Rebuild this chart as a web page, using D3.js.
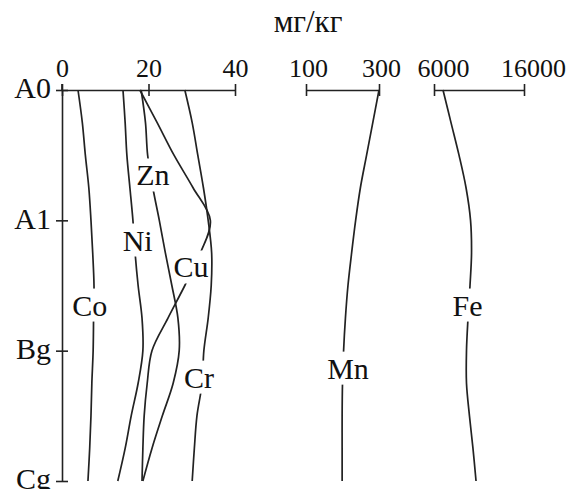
<!DOCTYPE html>
<html>
<head>
<meta charset="utf-8">
<script src="https://cdn.jsdelivr.net/npm/d3@7"></script>
<style>
  body { margin: 0; background: #fff; }
  svg { display: block; font-family: 'Liberation Serif', 'Times New Roman', serif; }
  .axis path, .axis line { stroke: #222; stroke-width: 1.6; }
  .axis text { fill: #111; }
  .profile { fill: none; stroke: #222; stroke-width: 1.7; }
</style>
</head>
<body>
<svg id="chart" width="574" height="489"></svg>
<script>
// soil horizons (top to bottom) and sampled depths, in horizon units
const horizons = ['A0', 'A1', 'Bg', 'Cg']
const depths = [0, 0.25, 0.5, 0.75, 1, 1.25, 1.5, 1.75, 2, 2.25, 2.5, 2.75, 3]

// mg/kg along the profile
const co = [3.7, 4.7, 5.4, 6.2, 6.7, 7.1, 7.4, 7.3, 7.2, 6.9, 6.7, 6.4, 6.0]
const ni = [14.1, 14.6, 15.0, 15.7, 16.4, 16.9, 17.6, 18.5, 18.7, 17.6, 16.0, 14.6, 12.9]
const zn = [18.3, 19.3, 19.8, 21.0, 22.5, 23.9, 25.4, 26.8, 27.1, 25.7, 23.2, 20.8, 18.7]
const cu = [18.0, 22.0, 25.9, 30.3, 34.3, 32.0, 28.4, 24.5, 20.8, 19.7, 19.0, 18.7, 18.5]
const cr = [28.4, 30.1, 31.4, 32.7, 33.8, 34.6, 34.5, 33.8, 32.8, 32.4, 31.2, 30.6, 30.1]
const mn = [300, 283, 266, 249, 236, 225, 215, 208, 203, 200, 199, 199, 199]
const fe = [7000, 7890, 8780, 9560, 10060, 10170, 10000, 9780, 9610, 9610, 9940, 10330, 10670]

const traceTicks = [0, 20, 40]
const mnTicks = [100, 300]
const feTicks = [6000, 16000]

const svg = d3.select('#chart')

const y = d3.scaleLinear().domain([0, 3]).range([90, 481])
const xTrace = d3.scaleLinear().domain([0, 40]).range([62, 235])
const xMn = d3.scaleLinear().domain([100, 300]).range([306, 379])
const xFe = d3.scaleLinear().domain([6000, 16000]).range([434, 524])

/**
 * Draws one horizontal scale above the profile, ticks crossing the line.
 *
 * @param {*} scale The x scale of the panel
 * @param {number[]} ticks The values to mark
 * @param {number} dx Horizontal nudge of the tick labels
 */
function drawTopAxis (scale, ticks, dx) {
  const g = svg.append('g')
    .attr('class', 'axis')
    .attr('transform', 'translate(0,' + y(0) + ')')
    .call(d3.axisTop(scale).tickValues(ticks).tickSize(6).tickSizeOuter(0).tickFormat(d3.format('d')))
  g.attr('font-family', null).attr('font-size', null)
  g.select('.domain').attr('fill', 'none')
  g.selectAll('.tick line').attr('y1', -6).attr('y2', 6)
  g.selectAll('.tick text')
    .attr('y', -13)
    .attr('dx', dx)
    .attr('font-size', 26)
}

drawTopAxis(xTrace, traceTicks, 0)
drawTopAxis(xMn, mnTicks, 2)
drawTopAxis(xFe, feTicks, 9)

// depth axis with horizon names
const yAxis = svg.append('g')
  .attr('class', 'axis')
  .attr('transform', 'translate(' + xTrace(0) + ',0)')
  .call(d3.axisLeft(y).tickValues([0, 1, 2, 3]).tickSize(6).tickSizeOuter(0)
    .tickFormat(d => horizons[d]))
yAxis.attr('font-family', null).attr('font-size', null)
yAxis.select('.domain').attr('fill', 'none')
yAxis.selectAll('.tick line').attr('x1', -6).attr('x2', 6)
yAxis.selectAll('.tick text')
  .attr('x', -11)
  .attr('dy', '0.26em')
  .attr('font-size', 30)

// small tick stub above the zero of the first scale
svg.append('line')
  .attr('class', 'profile')
  .attr('x1', xTrace(0)).attr('x2', xTrace(0))
  .attr('y1', y(0) - 6).attr('y2', y(0))

const series = [
  { name: 'Co', values: co, x: xTrace },
  { name: 'Ni', values: ni, x: xTrace },
  { name: 'Zn', values: zn, x: xTrace },
  { name: 'Cu', values: cu, x: xTrace },
  { name: 'Cr', values: cr, x: xTrace },
  { name: 'Mn', values: mn, x: xMn },
  { name: 'Fe', values: fe, x: xFe }
]

series.forEach(s => {
  const line = d3.line()
    .x(d => s.x(d[1]))
    .y(d => y(d[0]))
    .curve(d3.curveCatmullRom.alpha(0.5))
  svg.append('path')
    .attr('class', 'profile')
    .attr('d', line(depths.map((d, i) => [d, s.values[i]])))
})

// where each element name sits, in data units (depth, value)
const labelSpots = {
  Zn: [0.652, 21.0],
  Ni: [1.151, 17.5],
  Cu: [1.358, 29.8],
  Co: [1.650, 6.4],
  Cr: [2.203, 31.7],
  Mn: [2.134, 215],
  Fe: [1.650, 9722]
}

series.forEach(s => {
  const spot = labelSpots[s.name]
  const g = svg.append('g')
  const t = g.append('text')
    .attr('x', s.x(spot[1]))
    .attr('y', y(spot[0]))
    .attr('dy', '0.35em')
    .attr('text-anchor', 'middle')
    .attr('font-size', 30)
    .attr('fill', '#111')
    .text(s.name)
  const b = t.node().getBBox()
  g.insert('rect', 'text')
    .attr('x', b.x)
    .attr('y', b.y)
    .attr('width', b.width)
    .attr('height', b.height)
    .attr('fill', '#fff')
})

svg.append('text')
  .attr('x', 308)
  .attr('y', 32)
  .attr('text-anchor', 'middle')
  .attr('font-size', 31)
  .attr('fill', '#111')
  .text('мг/кг')
</script>
</body>
</html>
